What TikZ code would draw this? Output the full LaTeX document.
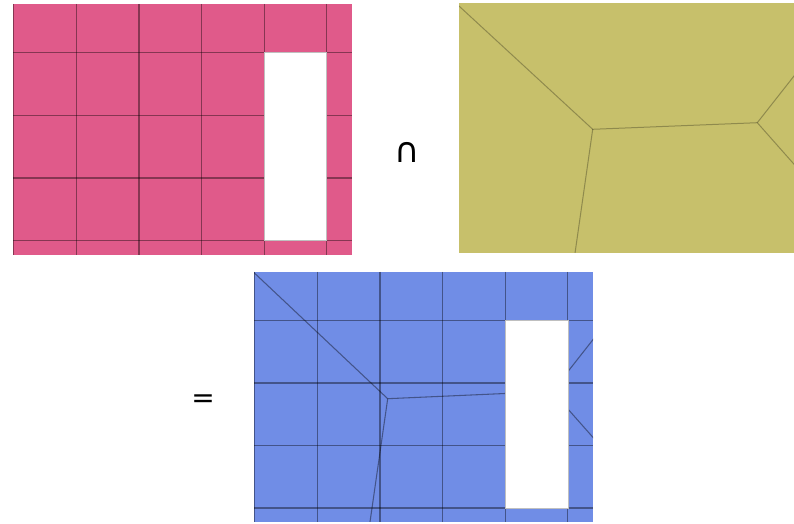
\documentclass[tikz,border=0pt]{standalone}
\usepackage{fontspec}
\newfontfamily\symfont{DejaVu Sans}
\usepackage{tikz}
\usetikzlibrary{positioning}
\definecolor{meshPink}{HTML}{E05A8A}
\definecolor{meshOlive}{HTML}{C7C06B}
\definecolor{meshBlue}{HTML}{708DE6}

\begin{document}
\begin{tikzpicture}[
  x=0.75pt, y=-0.75pt,
  cellline/.style={draw=black, draw opacity=0.4, line width=0.8pt},
  cutline/.style={draw=black, draw opacity=0.28, line width=0.75pt},
  hole/.style={fill=white, draw=black!25, line width=0.6pt},
  opsym/.style={font=\symfont\fontsize{26}{30}\selectfont, inner sep=0pt}
]
\useasboundingbox (0,0) rectangle (794,524);

% pink: cell grid with a hole
\begin{scope}[shift={(13,4)}]
  \clip (0,0) rectangle (339,251);
  \fill[meshPink] (0,0) rectangle (339,251);
  \foreach \x in {0,63.3,126,188.7,251.3,313.7}
    \draw[cellline] (\x,0) -- (\x,251);
  \foreach \y in {48.3,111.3,174,236.7}
    \draw[cellline] (0,\y) -- (339,\y);
  \draw[hole] (251.3,48.3) rectangle (313.7,236.7);
\end{scope}

\node[opsym] (capsym) at (407,152) {∩};

% olive: polygon cells
\begin{scope}[shift={(459,3)}]
  \clip (0,0) rectangle (335,250);
  \fill[meshOlive] (0,0) rectangle (335,250);
  \coordinate (va) at (133.7,126.3);
  \coordinate (vb) at (298.3,119.7);
  \draw[cutline] (-10,-6.2) -- (va) -- (vb) -- (345,60.3);
  \draw[cutline] (vb) -- (345,172.5);
  \draw[cutline] (va) -- (114.6,260);
\end{scope}

\node[opsym, font=\symfont\fontsize{21}{25}\selectfont] (eqsym) at (203,401) {=};

% blue: intersection of both
\begin{scope}[shift={(254,271.7)}]
  \clip (0,0) rectangle (339,250);
  \fill[meshBlue] (0,0) rectangle (339,250);
  \foreach \x in {0,63.3,126,188.7,251.3,313.7}
    \draw[cellline] (\x,0) -- (\x,250);
  \foreach \y in {48.6,111.3,173.6,236.3}
    \draw[cellline] (0,\y) -- (339,\y);
  \coordinate (wa) at (133.7,127);
  \coordinate (wb) at (298.3,119.7);
  \draw[cellline] (-10,-8.5) -- (wa) -- (wb) -- (345,60.3);
  \draw[cellline] (wb) -- (345,172.5);
  \draw[cellline] (wa) -- (114.6,260);
  \draw[hole] (251.3,48.6) rectangle (314,236.3);
\end{scope}
\end{tikzpicture}
\end{document}
